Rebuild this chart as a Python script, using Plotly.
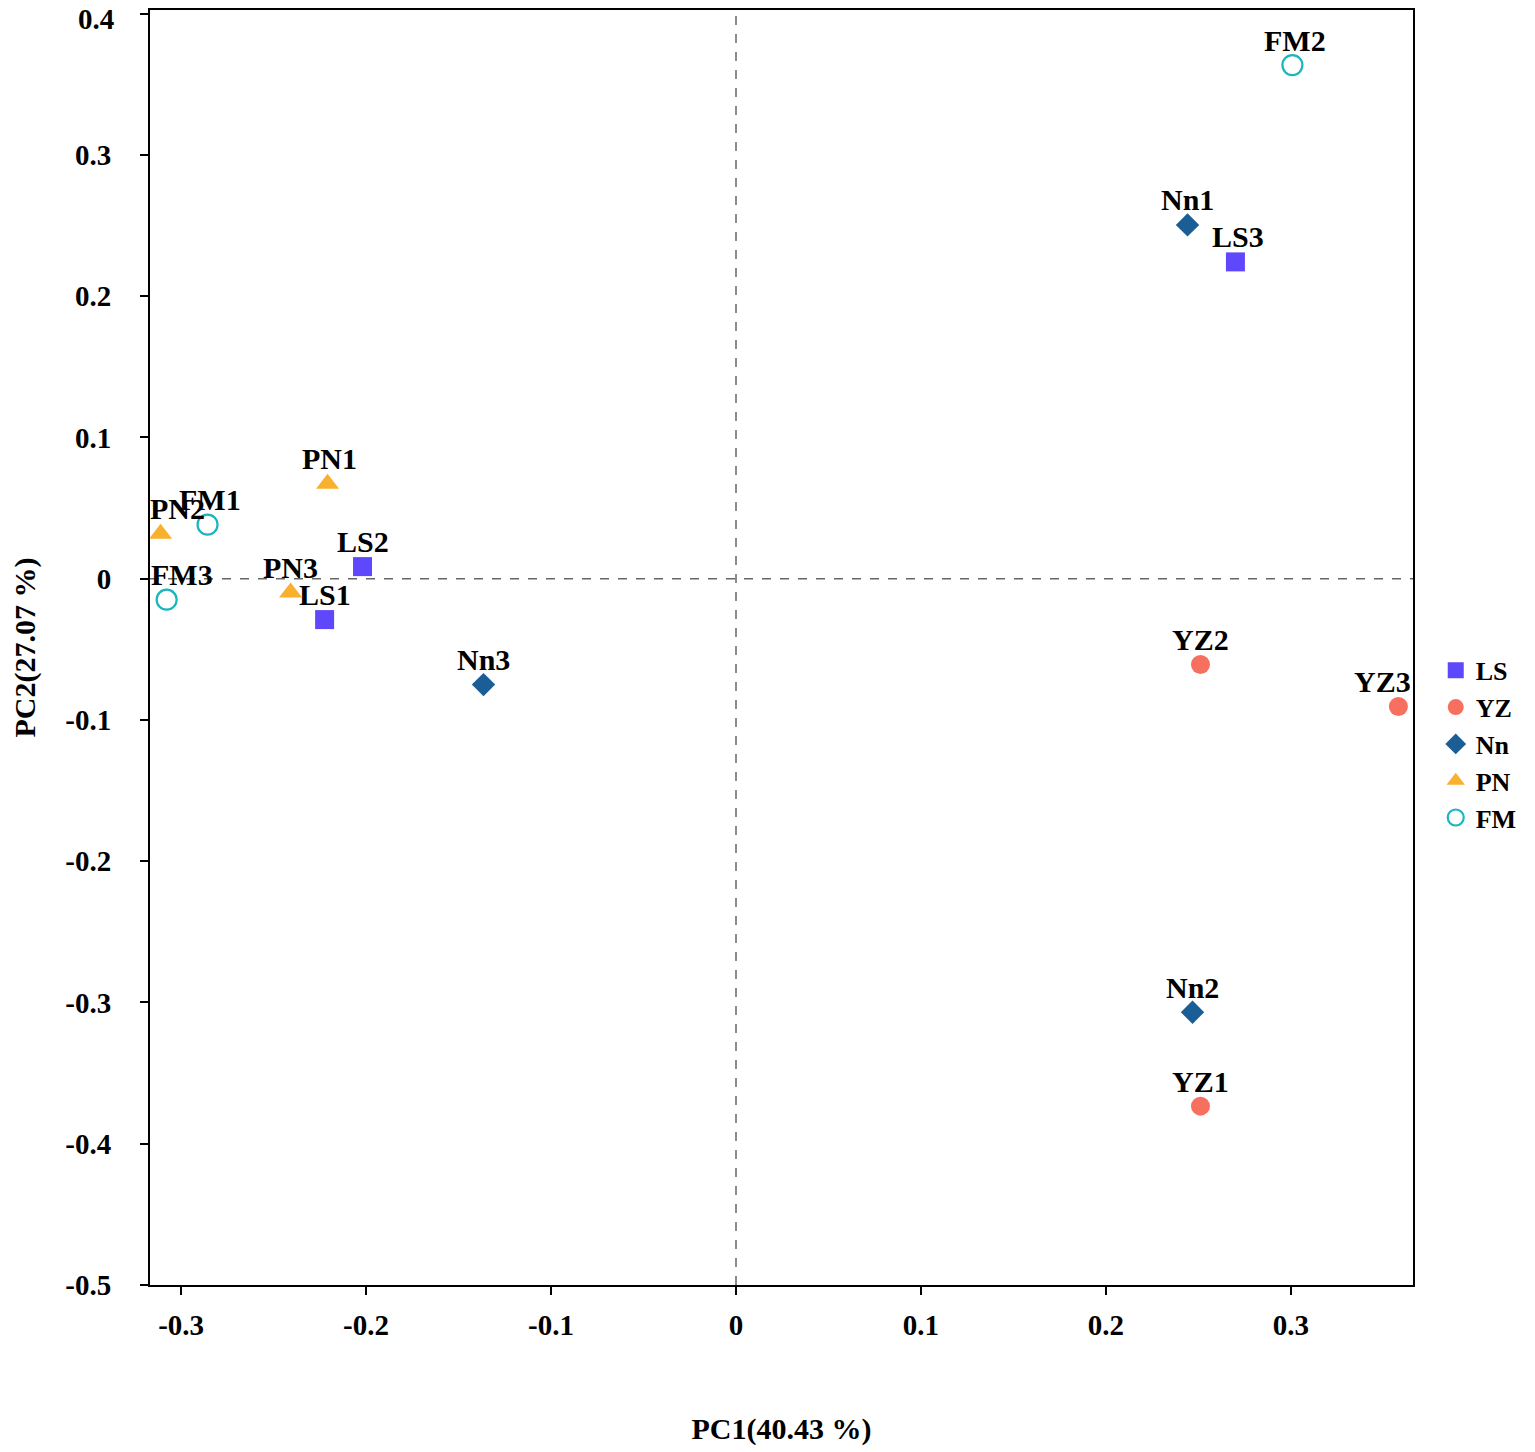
import plotly.graph_objects as go

# PCA scores
groups = ["LS", "YZ", "Nn", "PN", "FM"]
samples = {
    "LS": ["LS1", "LS2", "LS3"],
    "YZ": ["YZ1", "YZ2", "YZ3"],
    "Nn": ["Nn1", "Nn2", "Nn3"],
    "PN": ["PN1", "PN2", "PN3"],
    "FM": ["FM1", "FM2", "FM3"],
}
pc1 = {
    "LS": [-0.2224, -0.2019, 0.2700],
    "YZ": [0.2511, 0.2511, 0.3581],
    "Nn": [0.2441, 0.2468, -0.1365],
    "PN": [-0.2208, -0.3111, -0.2408],
    "FM": [-0.2857, 0.3008, -0.3078],
}
pc2 = {
    "LS": [-0.0290, 0.0085, 0.2242],
    "YZ": [-0.3734, -0.0608, -0.0905],
    "Nn": [0.2504, -0.3069, -0.0750],
    "PN": [0.0672, 0.0318, -0.0099],
    "FM": [0.0382, 0.3635, -0.0149],
}

x_ticks = [-0.3, -0.2, -0.1, 0, 0.1, 0.2, 0.3]
x_ticktext = ["-0.3", "-0.2", "-0.1", "0", "0.1", "0.2", "0.3"]
y_ticks = [-0.5, -0.4, -0.3, -0.2, -0.1, 0, 0.1, 0.2, 0.3, 0.4]
y_ticktext = ["-0.5", "-0.4", "-0.3", "-0.2", "-0.1", "0", "0.1", "0.2", "0.3", "0.4"]

# marker styles per group
styles = {
    "LS": dict(symbol="square", size=19, color="#5f47fb"),
    "YZ": dict(symbol="circle", size=19, color="#f7705f"),
    "Nn": dict(symbol="diamond", size=18, color="#1b5e96"),
    "PN": dict(symbol="triangle-up", size=20, color="#f8b02f"),
    "FM": dict(symbol="circle-open", size=20, color="#1cb4bd", line=dict(width=2.2, color="#1cb4bd")),
}
# small horizontal nudges of some labels (pixels)
label_dx = {"PN2": 17, "FM3": 15, "YZ3": -16, "LS3": 3, "FM2": 3, "PN1": 2, "FM1": 2}

serif = "Liberation Serif, Times New Roman, serif"
bold = lambda s: dict(family=serif, size=s, color="black", weight="bold")

fig = go.Figure()

fig.add_hline(y=0, line=dict(color="#666666", width=1.5, dash="dash"))
fig.add_vline(x=0, line=dict(color="#666666", width=1.5, dash="dash"))

for g in groups:
    fig.add_trace(go.Scatter(
        x=pc1[g], y=pc2[g], mode="markers", name=g,
        marker=styles[g],
    ))
    for name, xv, yv in zip(samples[g], pc1[g], pc2[g]):
        fig.add_annotation(
            x=xv, y=yv, text=name, showarrow=False,
            xshift=label_dx.get(name, 0), yshift=25,
            font=bold(30),
        )

# top tick label drawn a little below its tick so it is not cut by the page edge
fig.add_annotation(
    x=0, xref="paper", xanchor="right", xshift=-34,
    y=y_ticks[-1], yshift=-5, text=y_ticktext[-1], showarrow=False,
    font=bold(29),
)
y_ticktext_axis = y_ticktext[:-1] + [""]

fig.update_layout(
    width=1527, height=1444,
    margin=dict(l=142, r=122, t=2, b=167, autoexpand=False),
    plot_bgcolor="white", paper_bgcolor="white",
    font=bold(28),
    showlegend=True,
    legend=dict(
        x=1.018, y=0.424, xanchor="left", yanchor="middle",
        font=bold(26),
        tracegroupgap=0,
    ),
    xaxis=dict(
        range=[-0.3168, 0.366], automargin=False,
        tickvals=x_ticks, ticktext=x_ticktext,
        showgrid=False, zeroline=False,
        showline=True, linecolor="black", linewidth=2, mirror=True,
        ticks="outside", ticklen=8, tickwidth=2, tickcolor="black",
        ticklabelstandoff=5,
        tickfont=bold(29),
        title=dict(text="PC1(40.43 %)", standoff=78, font=bold(30)),
    ),
    yaxis=dict(
        range=[-0.5, 0.4025], automargin=False,
        tickvals=y_ticks, ticktext=y_ticktext_axis,
        showgrid=False, zeroline=False,
        showline=True, linecolor="black", linewidth=2, mirror=True,
        ticks="outside", ticklen=8, tickwidth=2, tickcolor="black",
        ticklabelstandoff=23,
        tickfont=bold(29),
        title=dict(text="PC2(27.07 %)", standoff=23, font=bold(30)),
    ),
)

fig.write_html("out.html")
